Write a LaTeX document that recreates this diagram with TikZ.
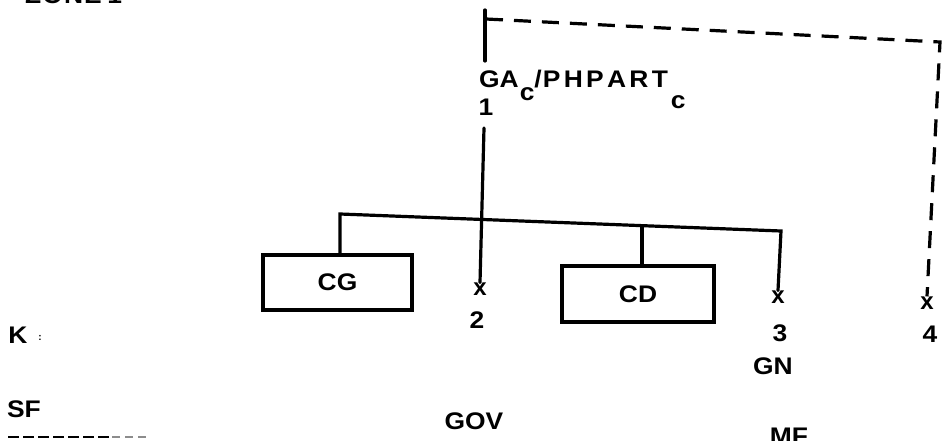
\documentclass[tikz,border=0pt]{standalone}
\usepackage{graphicx}
\usepackage{fontspec}
\setmainfont{Liberation Sans}
\newcommand{\widetxt}[1]{\scalebox{1.1}[1]{#1}}
\begin{document}
\begin{tikzpicture}[x=1pt,y=-1pt,
  lbl/.style={font=\bfseries\fontsize{24}{24}\selectfont, inner sep=0pt},
  xm/.style={font=\bfseries\fontsize{24}{24}\selectfont, inner sep=0pt},
  ln/.style={line width=3.2pt, line cap=round, line join=miter},
  dsh/.style={line width=3.2pt, dash pattern=on 17pt off 11pt},
  boxn/.style={draw, line width=3.2pt, inner sep=0pt, font=\bfseries\fontsize{24}{24}\selectfont}]
\useasboundingbox (0,0) rectangle (943,441);
\clip (0,0) rectangle (943,441);

% clipped heading
\node[lbl, anchor=base west] (zone) at (25,4) {\widetxt{Z\kern1pt O\kern1pt N\kern1pt E\kern5pt 1}};

% top structure
\coordinate (t0) at (485,10);
\coordinate (t1) at (485,61);
\draw[ln] (t0) -- (t1);
\coordinate (d0) at (486,19);
\coordinate (d1) at (940,42);

\node[lbl, anchor=base west] (ga) at (479,88)
  {\widetxt{GA}\kern1pt\raisebox{-13pt}{\widetxt{c}}\widetxt{/\kern1pt P\kern3pt H\kern3pt P\kern3pt A\kern3pt R\kern3pt T}\kern3pt\raisebox{-21pt}{\widetxt{c}}};
\node[lbl] (one) at (486,107) {\widetxt{1}};

% x marks and numbers
\node[xm] (x2) at (480,289) {x};
\node[xm] (x3) at (778,297) {x};
\node[xm] (x4) at (927,303) {x};
\draw[dsh] (d0) -- (d1) -- (x4.north);

\coordinate (v1) at (484,128);
\draw[ln] (v1) -- (x2.north);

% boxes
\node[boxn, minimum width=149pt, minimum height=55pt] (cg) at (337.5,282.5) {\widetxt{CG}};
\node[boxn, minimum width=152pt, minimum height=56pt] (cd) at (638,294) {\widetxt{CD}};

\coordinate (bl) at (340,214);
\coordinate (br) at (781,231);
\coordinate (bm) at (642,225.6);
\draw[ln] (cg.north -| bl) -- (bl) -- (br) -- (x3.north);
\draw[ln] (bm) -- (cd.north -| bm);

\node[lbl] (n2) at (477,320) {\widetxt{2}};
\node[lbl] (n3) at (780,333) {\widetxt{3}};
\node[lbl] (n4) at (930,334) {\widetxt{4}};
\node[lbl] (gn) at (773,366) {\widetxt{GN}};
\node[lbl] (gov) at (474,421) {\widetxt{GOV}};
\node[lbl, anchor=north] (mf) at (789,428) {\widetxt{MF}};

% left labels
\node[lbl] (k) at (18,335) {\widetxt{K}};
\node[inner sep=0pt, font=\bfseries\fontsize{10}{10}\selectfont] (kc) at (40,338) {:};
\node[lbl] (sf) at (24,409) {\widetxt{SF}};
\coordinate (s0) at (8,437);
\coordinate (s1) at (112,437);
\coordinate (s2) at (146,437);
\draw[line width=2.6pt, dash pattern=on 11pt off 4pt] (s0) -- (s1);
\draw[line width=2pt, black!45, dash pattern=on 8pt off 5pt] (s1) -- (s2);
\end{tikzpicture}
\end{document}
